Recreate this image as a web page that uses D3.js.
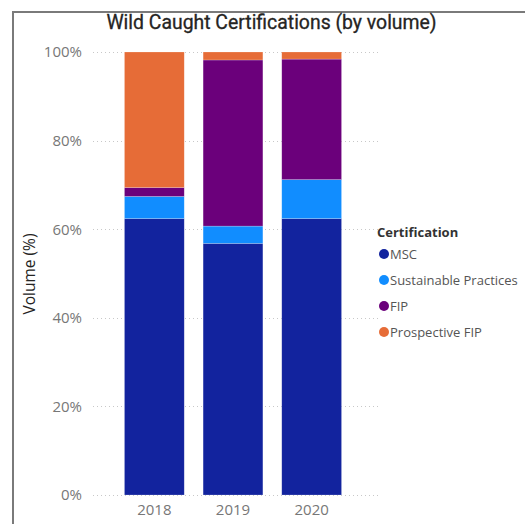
<!DOCTYPE html>
<html>
<head>
<meta charset="utf-8">
<script src="https://cdn.jsdelivr.net/npm/d3@7"></script>
<style>
  html, body { margin: 0; padding: 0; background: #fff; }
  svg { display: block; }
</style>
</head>
<body>
<svg id="chart" width="525" height="524"></svg>
<script>
// Years on the x axis
const years = ["2018", "2019", "2020"];
// Certification categories, bottom to top in the stack
const certifications = ["MSC", "Sustainable Practices", "FIP", "Prospective FIP"];
// Share of volume (%) per certification for each year
const msc = [62.4, 56.8, 62.4];
const sustainablePractices = [5.0, 3.9, 8.8];
const fip = [2.0, 37.5, 27.2];
const prospectiveFip = [30.6, 1.8, 1.6];
// Y axis tick values (%)
const yTicks = [0, 20, 40, 60, 80, 100];

const colors = ["#12239E", "#118DFF", "#6B007B", "#E66C37"];
const seriesValues = [msc, sustainablePractices, fip, prospectiveFip];

const rows = years.map((y, i) => {
  const r = { year: y };
  certifications.forEach((c, k) => { r[c] = seriesValues[k][i]; });
  return r;
});

const svg = d3.select("#chart");
const font = "'Segoe UI', 'Open Sans', 'Noto Sans', sans-serif";

// Visual frame
svg.append("path")
  .attr("d", "M13,524 L13,12 L525,12")
  .attr("fill", "none")
  .attr("stroke", "#7a7a7a")
  .attr("stroke-width", 2);

// Title
svg.append("text")
  .attr("x", 271.5).attr("y", 29)
  .attr("text-anchor", "middle")
  .attr("font-family", "'Roboto', 'DejaVu Sans', sans-serif")
  .attr("font-size", 19.4)
  .attr("font-weight", 400)
  .attr("fill", "#252423")
  .attr("stroke", "#252423")
  .attr("stroke-width", 0.3)
  .text("Wild Caught Certifications (by volume)");

const x = d3.scaleBand().domain(years).range([93, 373]).paddingInner(0.24).paddingOuter(0.4);
const y = d3.scaleLinear().domain([0, 100]).range([495, 52]);

// Dotted gridlines
svg.append("g").selectAll("line").data(yTicks).join("line")
  .attr("x1", 93).attr("x2", 378)
  .attr("y1", d => Math.round(y(d)) + 0.5).attr("y2", d => Math.round(y(d)) + 0.5)
  .attr("stroke", "#c8c8c8").attr("stroke-width", 1)
  .attr("stroke-dasharray", "1,3");

// Y axis tick labels
const yAxis = d3.axisLeft(y).tickValues(yTicks).tickFormat(d => d + "%").tickSize(0).tickPadding(0);
svg.append("g").attr("transform", "translate(82,0)").call(yAxis)
  .call(g => g.select(".domain").remove())
  .call(g => g.selectAll("text").attr("font-family", font).attr("font-size", 15).attr("fill", "#777"));

// X axis tick labels
const xAxis = d3.axisBottom(x).tickSize(0).tickPadding(0);
svg.append("g").attr("transform", "translate(0,504)").call(xAxis)
  .call(g => g.select(".domain").remove())
  .call(g => g.selectAll("text").attr("font-family", font).attr("font-size", 15).attr("fill", "#777"));

// Y axis title
svg.append("text")
  .attr("transform", "translate(35,274) rotate(-90)")
  .attr("text-anchor", "middle")
  .attr("font-family", font)
  .attr("font-size", 15.5)
  .attr("font-weight", 500)
  .attr("fill", "#252423")
  .text("Volume (%)");

// Stacked bars
const stacked = d3.stack().keys(certifications)(rows);
svg.append("g").selectAll("g").data(stacked).join("g")
  .attr("fill", (d, i) => colors[i])
  .selectAll("rect").data(d => d).join("rect")
  .attr("x", d => x(d.data.year))
  .attr("width", x.bandwidth())
  .attr("y", d => y(d[1]))
  .attr("height", d => y(d[0]) - y(d[1]))
  .attr("stroke", "rgba(255,255,255,0.35)")
  .attr("stroke-width", 0.6);

// Legend
const legend = svg.append("g");
legend.append("text")
  .attr("x", 377).attr("y", 237)
  .attr("font-family", font).attr("font-size", 13).attr("font-weight", "bold")
  .attr("fill", "#333")
  .text("Certification");
const items = legend.selectAll("g.item").data(certifications).join("g")
  .attr("class", "item")
  .attr("transform", (d, i) => `translate(0,${254 + i * 26})`);
items.append("circle").attr("cx", 384).attr("cy", 0).attr("r", 5)
  .attr("fill", (d, i) => colors[i]);
items.append("text").attr("x", 390).attr("y", 4.5)
  .attr("font-family", font).attr("font-size", 13).attr("fill", "#555")
  .text(d => d);
</script>
</body>
</html>
